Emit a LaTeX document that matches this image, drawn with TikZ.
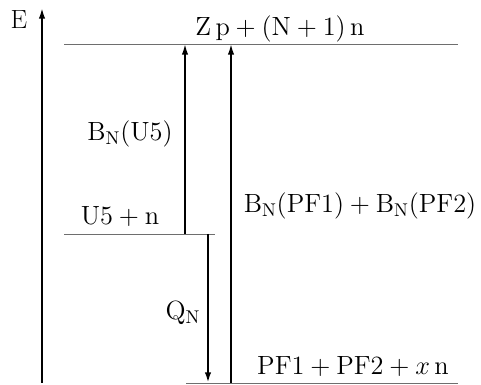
\documentclass[tikz,border=0pt]{standalone}
\usepackage{fix-cm}
\usepackage{amsmath}
\usetikzlibrary{arrows.meta,positioning}
\definecolor{ink}{HTML}{000000}
\definecolor{level}{HTML}{6E6E6E}

\begin{document}
\begin{tikzpicture}[>={Latex[length=6pt,width=3.6pt]},x=0.02cm,y=-0.02cm]
\useasboundingbox (0,0) rectangle (481,385);
\tikzset{lvl/.style={draw=level,line width=0.5pt},
  trans/.style={->,ink,line width=0.95pt},
  lab/.style={inner sep=1pt,font=\fontsize{15}{18}\selectfont}}
% axis
\coordinate (e0) at (42,383); \coordinate (e1) at (42,8);
\draw[->,line width=1pt] (e0)--(e1);
\node[lab] (E) at (19,20) {E};
% levels
\coordinate (t0) at (64,44); \coordinate (t1) at (458,44);
\coordinate (m0) at (64,234); \coordinate (m1) at (215,234);
\coordinate (b0) at (186,383); \coordinate (b1) at (458,383);
\draw[lvl] (t0)--(t1); \draw[lvl] (m0)--(m1); \draw[lvl] (b0)--(b1);
\node[lab] (top) at (280,29) {$\mathrm{Z\,p}+(\mathrm{N}+1)\,\mathrm{n}$};
\node[lab] (mid) at (120,217) {$\mathrm{U5}+\mathrm{n}$};
\node[lab] (bot) at (353,367) {$\mathrm{PF1}+\mathrm{PF2}+x\,\mathrm{n}$};
% transitions
\coordinate (a0) at (185,234); \coordinate (a1) at (185,44);
\coordinate (c0) at (231,383); \coordinate (c1) at (231,44);
\coordinate (q0) at (208,234); \coordinate (q1) at (208,383);
\draw[trans] (a0)--(a1); \draw[trans] (c0)--(c1);
\draw[->,line width=1.6pt] (q0)--(q1);
\node[lab] (bu) at (130,134) {$\mathrm{B_N(U5)}$};
\node[lab] (bpf) at (360,206) {$\mathrm{B_N(PF1)}+\mathrm{B_N(PF2)}$};
\node[lab] (q) at (183,313) {$\mathrm{Q_N}$};
\end{tikzpicture}
\end{document}
